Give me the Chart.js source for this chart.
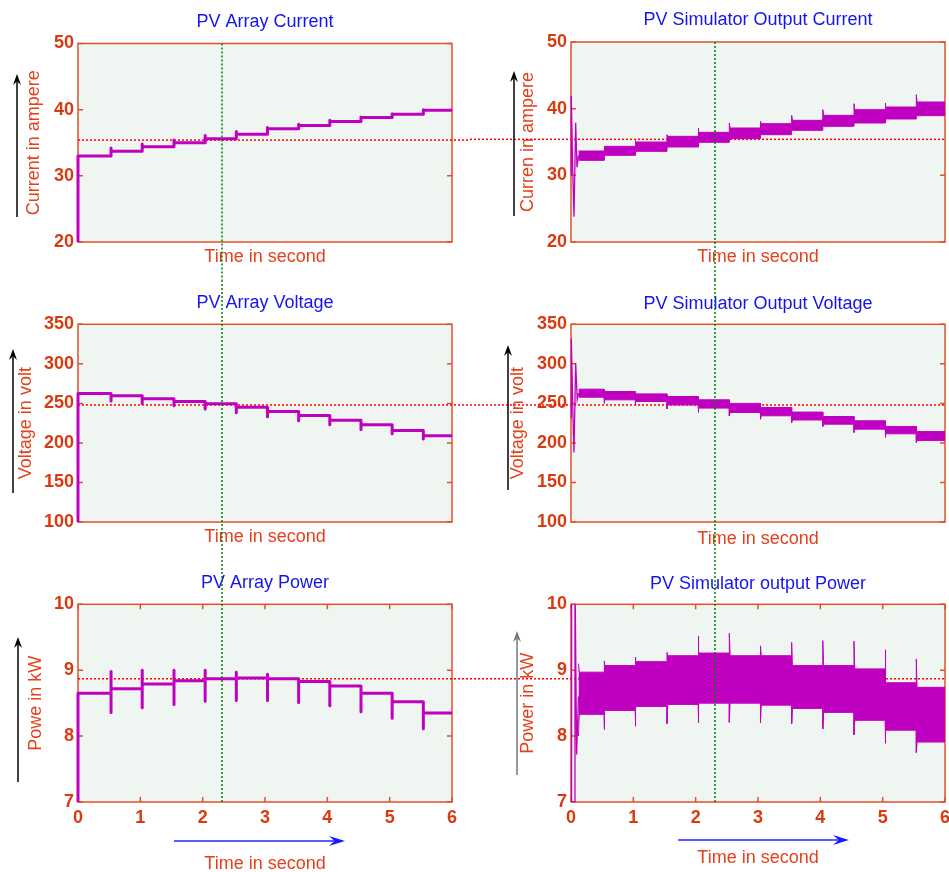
<!DOCTYPE html>
<html>
<head>
<meta charset="utf-8">
<script src="https://cdn.jsdelivr.net/npm/chart.js@4.4.0/dist/chart.umd.min.js"></script>
<style>
  html, body { margin: 0; padding: 0; background: #fff; overflow: hidden; }
  #fig { position: relative; width: 949px; height: 872px; overflow: hidden; }
  #fig canvas { position: absolute; }
</style>
</head>
<body>
<div id="fig"></div>
<script>
// step change instants (s)
const stepTimes = [0, 0.53, 1.03, 1.54, 2.04, 2.54, 3.04, 3.54, 4.04, 4.54, 5.04, 5.54, 6];
const startValue = 0;

// PV array (left column), one level per step, spikes at each change
const arrayCurrent     = [33.0, 33.7, 34.4, 35.0, 35.6, 36.3, 37.1, 37.6, 38.2, 38.8, 39.3, 39.9];
const arrayCurrentPeak = [null, 34.2, 34.8, 35.4, 36.1, 36.7, 37.3, 37.8, 38.4, 38.9, 39.4, 40.0];
const arrayVoltage     = [262.5, 259.5, 255.7, 252.4, 249.4, 245.2, 239.7, 234.7, 228.8, 222.9, 215.7, 209.0];
const arrayVoltageDip  = [null, 253, 250, 247, 243, 238, 233, 228, 223, 217, 211.5, 205];
const arrayPower       = [8.65, 8.72, 8.79, 8.84, 8.87, 8.88, 8.87, 8.83, 8.76, 8.65, 8.52, 8.35];
const arrayPowerPeak   = [null, 8.98, 9.0, 9.0, 9.0, 8.97, 8.94, null, null, null, null, null];
const arrayPowerDip    = [null, 8.36, 8.43, 8.48, 8.53, 8.54, 8.54, 8.51, 8.46, 8.37, 8.27, 8.11];

// PV simulator (right column), ripple band per step
const simCurrentHigh = [33.65, 34.35, 35.0, 35.85, 36.45, 37.1, 37.75, 38.25, 39.0, 39.85, 40.25, 41.0];
const simCurrentLow  = [32.25, 33.0, 33.6, 34.25, 34.95, 35.5, 36.1, 36.75, 37.35, 37.85, 38.45, 38.95];
const simCurrentPeak = [33.65, 34.4, 35.2, 36.1, 37.1, 37.85, 38.1, 39.0, 39.85, 40.75, 40.85, 42.1];
const simVoltageHigh = [268, 265, 262, 258.7, 254.5, 250, 244.8, 239, 233.4, 228, 220.8, 214.5];
const simVoltageLow  = [257.8, 254.5, 252.4, 248, 244, 238.5, 234.3, 229, 223.7, 217.4, 211.5, 203];
const simVoltageDip  = [257.8, 250, 247.3, 243, 238.5, 234, 230, 225.8, 220.8, 213.2, 206.9, 200.6];
const simPowerHigh   = [8.97, 9.07, 9.13, 9.22, 9.26, 9.22, 9.22, 9.07, 9.07, 9.02, 8.81, 8.74];
const simPowerLow    = [8.33, 8.39, 8.45, 8.48, 8.5, 8.5, 8.47, 8.42, 8.36, 8.24, 8.09, 7.91];
const simPowerPeak   = [9.1, 9.14, 9.2, 9.27, 9.52, 9.56, 9.37, 9.42, 9.45, 9.44, 9.31, 9.17];
const simPowerDip    = [8.0, 8.1, 8.15, 8.19, 8.2, 8.21, 8.2, 8.19, 8.11, 8.02, 7.89, 7.75];

// simulator start-up transient
const simCurrentStartT = [0, 0.004, 0.03, 0.048, 0.075, 0.096, 0.12];
const simCurrentStartY = [30, 41.9, 30, 23.8, 37.9, 31.2, 33.0];
const simVoltageStartT = [0, 0.005, 0.03, 0.048, 0.075, 0.1, 0.12];
const simVoltageStartY = [232, 332, 240, 188, 301, 255, 263];
const simPowerStartT   = [0, 0.006, 0.012, 0.058, 0.064, 0.09, 0.12];
const simPowerStartY   = [7, 10.5, 7, 7, 10.5, 7.72, 8.6];

// cursor lines
const cursorTime = 2.31;
const cursorCurrent = 35.4;
const cursorVoltage = 248;
const cursorPower = 8.87;

const FONT = "'Liberation Sans', Arial, sans-serif";
const MAG = '#c000c0';
const BLUE = '#1414f0';
const TICK = '#d93a0f';
const AXT = '#e5401a';
const FRAME = '#e2522a';
const PLOT_BG = '#eff5f0';
const spikeW = 0.012;

function stepPoints(levels, peaks, dips) {
  const pts = [{ x: stepTimes[0], y: startValue }, { x: stepTimes[0], y: levels[0] }];
  for (let i = 1; i < levels.length; i++) {
    const t = stepTimes[i];
    pts.push({ x: t, y: levels[i - 1] });
    if (peaks && peaks[i] != null) pts.push({ x: t, y: peaks[i] });
    if (dips && dips[i] != null) pts.push({ x: t, y: dips[i] });
    pts.push({ x: t, y: levels[i] });
  }
  pts.push({ x: stepTimes[stepTimes.length - 1], y: levels[levels.length - 1] });
  return pts;
}

function bandEdge(first, levels, spikes) {
  const pts = [];
  for (let i = 0; i < levels.length; i++) {
    const s = i === 0 ? first : stepTimes[i];
    pts.push({ x: s, y: spikes[i] });
    pts.push({ x: s + spikeW, y: levels[i] });
    pts.push({ x: stepTimes[i + 1], y: levels[i] });
  }
  return pts;
}

function zip(ts, ys) {
  return ts.map((t, i) => ({ x: t, y: ys[i] }));
}

function arrayDataset(levels, peaks, dips) {
  return {
    data: stepPoints(levels, peaks, dips),
    borderColor: MAG, borderWidth: 3, pointRadius: 0, fill: false, tension: 0,
    borderCapStyle: 'round', borderJoinStyle: 'round',
    clip: { left: 3, top: 0, right: 0, bottom: 0 }
  };
}

function simDatasets(high, low, peak, dip, st, sy) {
  const first = st[st.length - 1];
  return [
    { data: bandEdge(first, high, peak), borderColor: MAG, backgroundColor: MAG, borderWidth: 1,
      pointRadius: 0, fill: '+1', tension: 0 },
    { data: bandEdge(first, low, dip), borderColor: MAG, borderWidth: 1, pointRadius: 0, fill: false, tension: 0 },
    { data: zip(st, sy), borderColor: MAG, borderWidth: 1.3, pointRadius: 0, fill: false, tension: 0,
      clip: { left: 2, top: 0, right: 0, bottom: 0 } }
  ];
}

function arrow(ctx, x1, y1, x2, y2, shaft, head, w, L, W) {
  const a = Math.atan2(y2 - y1, x2 - x1);
  const c = Math.cos(a), s = Math.sin(a);
  const notch = L * 0.35;
  ctx.strokeStyle = shaft; ctx.lineWidth = w; ctx.setLineDash([]);
  ctx.beginPath(); ctx.moveTo(x1, y1); ctx.lineTo(x2 - c * (L - notch), y2 - s * (L - notch)); ctx.stroke();
  const bx = x2 - c * L, by = y2 - s * L;
  ctx.fillStyle = head;
  ctx.beginPath();
  ctx.moveTo(x2, y2);
  ctx.lineTo(bx - s * W, by + c * W);
  ctx.lineTo(x2 - c * (L - notch), y2 - s * (L - notch));
  ctx.lineTo(bx + s * W, by - c * W);
  ctx.closePath(); ctx.fill();
}

const deco = {
  id: 'deco',
  beforeDraw(chart, args, o) {
    const { ctx, chartArea: a } = chart;
    ctx.save();
    ctx.fillStyle = PLOT_BG;
    ctx.fillRect(a.left, a.top, a.right - a.left, a.bottom - a.top);
    ctx.restore();
  },
  beforeDatasetsDraw(chart, args, o) {
    const { ctx, chartArea: a, scales } = chart;
    ctx.save();
    ctx.strokeStyle = FRAME; ctx.lineWidth = 1.5;
    ctx.strokeRect(a.left, a.top, a.right - a.left, a.bottom - a.top);
    ctx.beginPath();
    scales.y.ticks.forEach(t => {
      const y = scales.y.getPixelForValue(t.value);
      ctx.moveTo(a.left, y); ctx.lineTo(a.left + 5, y);
      ctx.moveTo(a.right, y); ctx.lineTo(a.right - 5, y);
    });
    if (o.row === 2) {
      scales.x.ticks.forEach(t => {
        const x = scales.x.getPixelForValue(t.value);
        ctx.moveTo(x, a.bottom); ctx.lineTo(x, a.bottom - 5);
        ctx.moveTo(x, a.top); ctx.lineTo(x, a.top + 5);
      });
    }
    ctx.stroke();
    // horizontal cursor
    const y = scales.y.getPixelForValue(o.level);
    ctx.strokeStyle = '#ff0000'; ctx.lineWidth = 1.5; ctx.setLineDash([2, 2]);
    ctx.beginPath();
    ctx.moveTo(o.col === 0 ? a.left : 0, y);
    ctx.lineTo(o.col === 0 ? chart.width : a.right, y);
    ctx.stroke();
    ctx.restore();
  },
  afterDatasetsDraw(chart, args, o) {
    const { ctx, chartArea: a, scales } = chart;
    ctx.save();
    const x = scales.x.getPixelForValue(cursorTime);
    ctx.strokeStyle = '#008000'; ctx.lineWidth = 1.5; ctx.setLineDash([2, 2]);
    ctx.beginPath();
    ctx.moveTo(x, o.row === 0 ? a.top : 0);
    ctx.lineTo(x, o.row === 2 ? a.bottom : chart.height);
    ctx.stroke();
    const ya = o.yArrow;
    arrow(ctx, ya[0], ya[1], ya[0], ya[2], ya[3], ya[3], 1.5, 11, 4);
    if (o.xArrow) {
      const xa = o.xArrow;
      arrow(ctx, xa[0], xa[2], xa[1], xa[2], '#5a5aff', '#1a1aff', 2, 16, 5);
    }
    ctx.restore();
  }
};

const colLeft = [0, 470], colWidth = [470, 490], yWidth = [78, 101], padRight = [18, 15];
const rowTop = [0, 280, 560], rowHeight = [280, 280, 330];
const plotBottom = 242;

const panels = [
  { col: 0, row: 0, title: 'PV Array Current', yTitle: 'Current in ampere', min: 20, max: 50, step: 10, level: cursorCurrent,
    datasets: [arrayDataset(arrayCurrent, arrayCurrentPeak, null)],
    tPad: [11.7, 10.2], yT: 23.2, xT: 12.4, yArrow: [17, 217, 74, '#000'] },
  { col: 1, row: 0, title: 'PV Simulator Output Current', yTitle: 'Curren in ampere', min: 20, max: 50, step: 10, level: cursorCurrent,
    datasets: simDatasets(simCurrentHigh, simCurrentLow, simCurrentPeak, simCurrentLow, simCurrentStartT, simCurrentStartY),
    tPad: [9.2, 11.2], yT: 47.2, xT: 11.8, yArrow: [44, 216, 71, '#000'] },
  { col: 0, row: 1, title: 'PV Array Voltage', yTitle: 'Voltage in volt', min: 100, max: 350, step: 50, level: cursorVoltage,
    datasets: [arrayDataset(arrayVoltage, null, arrayVoltageDip)],
    tPad: [12.5, 10.2], yT: 15.2, xT: 11.8, yArrow: [13, 213, 69, '#000'] },
  { col: 1, row: 1, title: 'PV Simulator Output Voltage', yTitle: 'Voltage in volt', min: 100, max: 350, step: 50, level: cursorVoltage,
    datasets: simDatasets(simVoltageHigh, simVoltageLow, simVoltageHigh, simVoltageDip, simVoltageStartT, simVoltageStartY),
    tPad: [12.9, 9.8], yT: 37.2, xT: 10.2, yArrow: [38, 210, 65, '#000'] },
  { col: 0, row: 2, title: 'PV Array Power', yTitle: 'Powe in kW', min: 7, max: 10, step: 1, level: cursorPower,
    datasets: [arrayDataset(arrayPower, arrayPowerPeak, arrayPowerDip)],
    tPad: [12.5, 10.2], yT: 25.2, xT: 14.8, yArrow: [18, 222, 77, '#000'], xArrow: [174, 345, 281] },
  { col: 1, row: 2, title: 'PV Simulator output Power', yTitle: 'Power in kW', min: 7, max: 10, step: 1, level: cursorPower,
    datasets: simDatasets(simPowerHigh, simPowerLow, simPowerPeak, simPowerDip, simPowerStartT, simPowerStartY),
    tPad: [12.9, 9.8], yT: 47.2, xT: 20.8, yArrow: [47, 215, 71, '#777'], xArrow: [208, 379, 280] }
];

const fig = document.getElementById('fig');
panels.forEach(p => {
  const cv = document.createElement('canvas');
  const w = colWidth[p.col], h = rowHeight[p.row];
  cv.width = w; cv.height = h;
  cv.style.left = colLeft[p.col] + 'px';
  cv.style.top = rowTop[p.row] + 'px';
  cv.style.width = w + 'px'; cv.style.height = h + 'px';
  fig.appendChild(cv);

  new Chart(cv.getContext('2d'), {
    type: 'line',
    data: { datasets: p.datasets },
    plugins: [deco],
    options: {
      responsive: false,
      animation: false,
      events: [],
      layout: { padding: { top: 0, left: 0, bottom: 0, right: padRight[p.col] } },
      plugins: {
        legend: { display: false },
        tooltip: { enabled: false },
        title: {
          display: true, text: p.title, color: BLUE, fullSize: false,
          font: { family: FONT, size: 18, weight: 'normal' },
          padding: { top: p.tPad[0], bottom: p.tPad[1] }
        },
        deco: { col: p.col, row: p.row, level: p.level, yArrow: p.yArrow, xArrow: p.xArrow || null }
      },
      scales: {
        x: {
          type: 'linear', min: 0, max: 6,
          grid: { display: false, drawTicks: false },
          border: { display: false },
          ticks: {
            display: p.row === 2, stepSize: 1, padding: 5.6, color: TICK,
            font: { family: FONT, size: 18, weight: 'bold' }
          },
          title: {
            display: true, text: 'Time in second', color: AXT,
            font: { family: FONT, size: 18 }, padding: { top: 0, bottom: p.xT }
          },
          afterFit: s => { s.height = h - plotBottom; }
        },
        y: {
          type: 'linear', min: p.min, max: p.max,
          grid: { display: false, drawTicks: false },
          border: { display: false },
          ticks: {
            stepSize: p.step, padding: 4, color: TICK,
            font: { family: FONT, size: 18, weight: 'bold' }
          },
          title: {
            display: true, text: p.yTitle, color: AXT,
            font: { family: FONT, size: 18 }, padding: { top: p.yT, bottom: 0 }
          },
          afterFit: s => { s.width = yWidth[p.col]; }
        }
      }
    }
  });
});
</script>
</body>
</html>
